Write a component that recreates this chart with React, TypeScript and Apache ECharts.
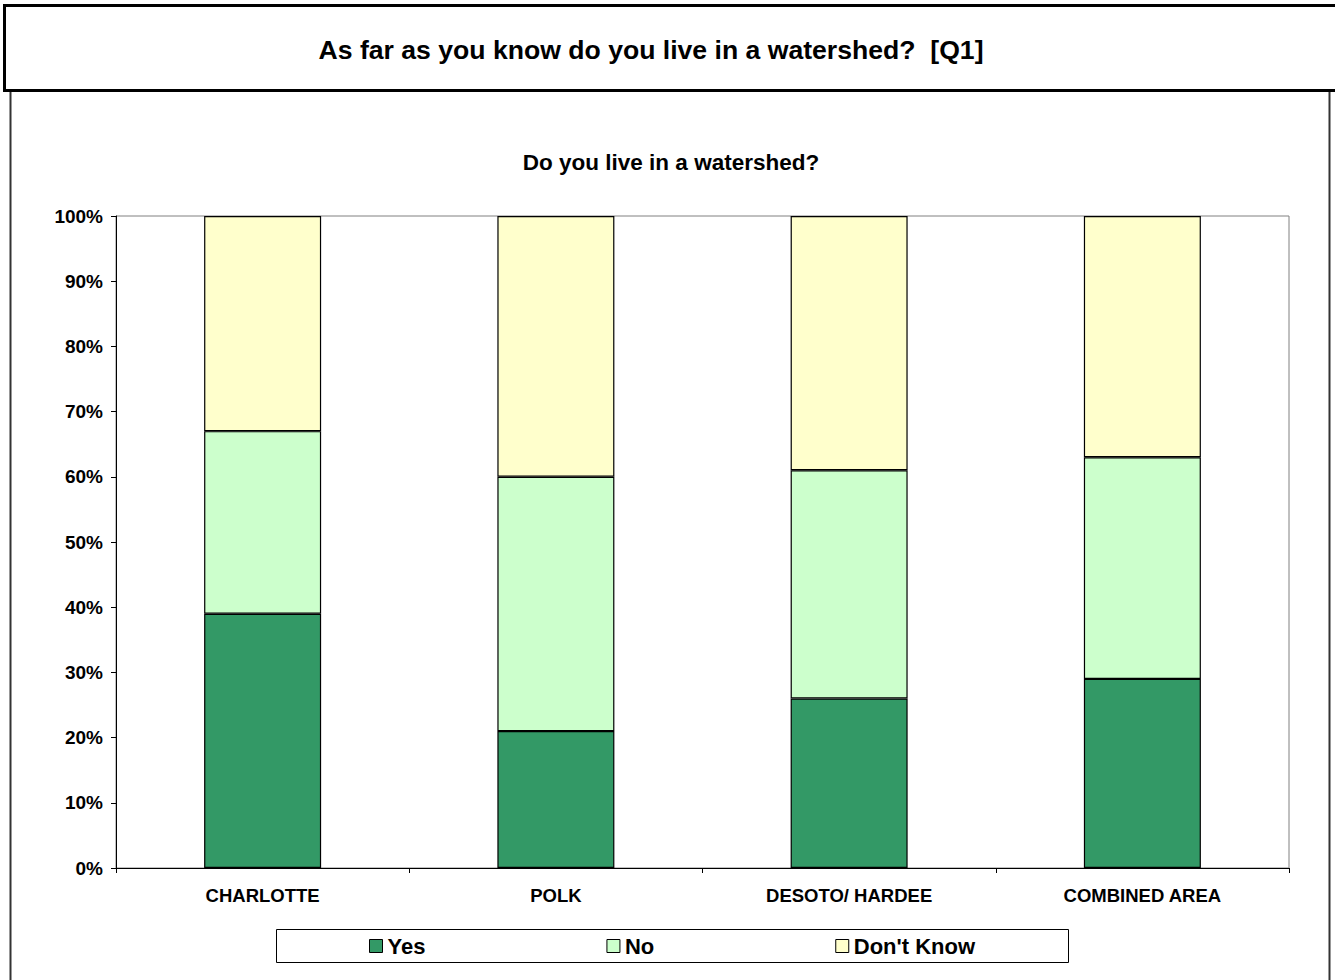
import React, { useEffect, useRef } from "react";
import * as echarts from "echarts";

const categories = ["CHARLOTTE", "POLK", "DESOTO/ HARDEE", "COMBINED AREA"];
const yesValues = [39, 21, 26, 29];
const noValues = [28, 39, 35, 34];
const dontKnowValues = [33, 40, 39, 37];
const seriesNames = ["Yes", "No", "Don't Know"];
const seriesColors = ["#339966", "#CCFFCC", "#FFFFCC"];
const mainTitle = "As far as you know do you live in a watershed?  [Q1]";
const subTitle = "Do you live in a watershed?";

const FONT = "'Liberation Sans', Arial, sans-serif";

export default function App() {
  const ref = useRef<HTMLDivElement>(null);
  useEffect(() => {
    document.body.style.margin = "0";
    const chart = echarts.init(ref.current!, null, { renderer: "svg" });
    const data = [yesValues, noValues, dontKnowValues];
    chart.setOption({
      animation: false,
      backgroundColor: "#ffffff",
      textStyle: { fontFamily: FONT },
      graphic: [
        {
          type: "rect",
          shape: { x: 10.5, y: 90.5, width: 1319, height: 1000 },
          style: { fill: "none", stroke: "#333", lineWidth: 2 },
          z: 0,
        },
        {
          type: "rect",
          shape: { x: 4.5, y: 5.5, width: 1340, height: 85 },
          style: { fill: "#fff", stroke: "#000", lineWidth: 3 },
          z: 1,
        },
        {
          type: "text",
          x: 651,
          y: 50,
          z: 2,
          style: {
            text: mainTitle,
            fill: "#000",
            font: `bold 26.6px ${FONT}`,
            textAlign: "center",
            textVerticalAlign: "middle",
          },
        },
        {
          type: "text",
          x: 671,
          y: 162,
          z: 2,
          style: {
            text: subTitle,
            fill: "#000",
            font: `bold 22.5px ${FONT}`,
            textAlign: "center",
            textVerticalAlign: "middle",
          },
        },
        {
          type: "rect",
          shape: { x: 276.5, y: 929.5, width: 792, height: 33 },
          style: { fill: "#fff", stroke: "#000", lineWidth: 1 },
          z: 1,
        },
      ],
      legend: {
        left: 369,
        top: 935,
        itemGap: 181,
        itemWidth: 13,
        itemHeight: 13,
        icon: "rect",
        padding: 0,
        z: 5,
        itemStyle: { borderColor: "#000", borderWidth: 1 },
        textStyle: { fontSize: 22, fontWeight: "bold", color: "#000", fontFamily: FONT },
        data: seriesNames,
      },
      grid: {
        left: 116,
        right: 46,
        top: 216,
        bottom: 112,
        show: true,
        borderColor: "#808080",
        borderWidth: 1,
        backgroundColor: "#fff",
      },
      xAxis: {
        type: "category",
        data: categories,
        axisLine: { lineStyle: { color: "#000", width: 1 } },
        axisTick: { show: true, length: 5, lineStyle: { color: "#000" } },
        axisLabel: { fontSize: 18.5, fontWeight: "bold", color: "#000", margin: 18, fontFamily: FONT },
      },
      yAxis: {
        type: "value",
        min: 0,
        max: 100,
        interval: 10,
        splitLine: { show: false },
        axisLine: { show: true, lineStyle: { color: "#000", width: 1 } },
        axisTick: { show: true, length: 5, lineStyle: { color: "#000" } },
        axisLabel: { formatter: "{value}%", fontSize: 19, fontWeight: "bold", color: "#000", margin: 13, fontFamily: FONT },
      },
      series: seriesNames.map((name, i) => ({
        name,
        type: "bar",
        stack: "total",
        barWidth: 117,
        data: data[i],
        itemStyle: { color: seriesColors[i], borderColor: "#000", borderWidth: 1.2 },
      })),
    });
    return () => chart.dispose();
  }, []);
  return <div ref={ref} style={{ width: 1335, height: 980 }} />;
}
